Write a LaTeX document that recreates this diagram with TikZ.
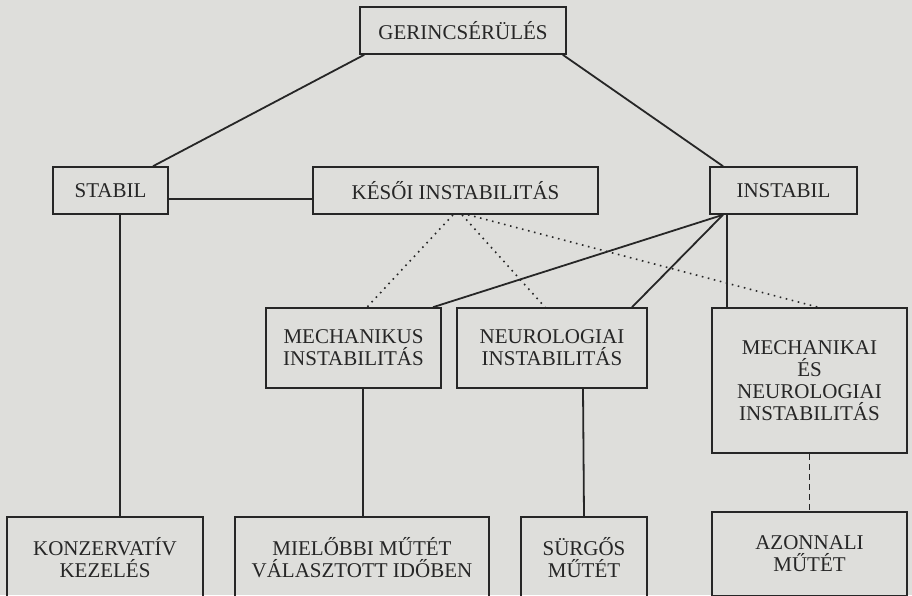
\documentclass[tikz,border=0pt]{standalone}
\usepackage{fontspec}
\setmainfont{Liberation Serif}
\usepackage{tikz}
\usetikzlibrary{positioning,calc}
\definecolor{papir}{RGB}{222,222,219}
\definecolor{tinta}{RGB}{38,38,38}
\tikzstyle{doboz} = [rectangle, draw=tinta, line width=1.6pt, text=tinta, align=center, inner sep=0pt, font=\fontsize{21}{22}\selectfont]
\tikzstyle{vonal} = [draw=tinta, line width=1.8pt]
\tikzstyle{pontozott} = [draw=tinta, line width=1.6pt, dash pattern=on 1.6pt off 4.6pt]
\tikzstyle{szaggatott} = [draw=tinta, line width=1.5pt, dash pattern=on 6pt off 4pt]

\begin{document}
\begin{tikzpicture}[x=1pt,y=-1pt]
	\fill[papir] (0,0) rectangle (912,595);
	\clip (0,0) rectangle (912,595);
	\node (ger) at (463,30.5) [doboz, minimum width=206pt, minimum height=47pt] {GERINCSÉRÜLÉS};
	\node (stab) at (110.5,190.5) [doboz, minimum width=115pt, minimum height=47pt] {STABIL};
	\node (kes) at (455.5,190.5) [doboz, minimum width=285pt, minimum height=47pt] {KÉSŐI INSTABILITÁS};
	\node (inst) at (783.5,190.5) [doboz, minimum width=147pt, minimum height=47pt] {INSTABIL};
	\node (mech) at (353.5,348) [doboz, minimum width=175pt, minimum height=80pt] {MECHANIKUS\\ INSTABILITÁS};
	\node (neur) at (552,348) [doboz, minimum width=190pt, minimum height=80pt] {NEUROLOGIAI\\ INSTABILITÁS};
	\node (mene) at (809.5,380.5) [doboz, minimum width=195pt, minimum height=145pt] {MECHANIKAI\\ ÉS\\ NEUROLOGIAI\\ INSTABILITÁS};
	\node (konz) at (105,558) [doboz, minimum width=196pt, minimum height=82pt] {KONZERVATÍV\\ KEZELÉS};
	\node (miel) at (362,558) [doboz, minimum width=254pt, minimum height=82pt] {MIELŐBBI MŰTÉT\\ VÁLASZTOTT IDŐBEN};
	\node (surg) at (584,558) [doboz, minimum width=126pt, minimum height=82pt] {SÜRGŐS\\ MŰTÉT};
	\node (azon) at (809.5,554) [doboz, minimum width=195pt, minimum height=84pt] {AZONNALI\\ MŰTÉT};

	\draw[vonal] ([xshift=5pt]ger.south west) -- ([xshift=42.5pt]stab.north);
	\draw[vonal] ([xshift=-4pt]ger.south east) -- ([xshift=-60.5pt]inst.north);
	\draw[vonal] ([yshift=-8.5pt]stab.east) -- ([yshift=-8.5pt]kes.west);
	\draw[vonal] ([xshift=9.5pt]stab.south) -- ([xshift=15pt]konz.north);
	\draw[vonal] ([xshift=-60.5pt]inst.south) -- ([xshift=79.5pt]mech.north);
	\draw[vonal] ([xshift=-60.5pt]inst.south) -- ([xshift=80pt]neur.north);
	\draw[vonal] ([xshift=-56.5pt]inst.south) -- ([xshift=-82.5pt]mene.north);
	\draw[pontozott] ([xshift=-2.5pt]kes.south) -- ([xshift=13.5pt]mech.north);
	\draw[pontozott] ([xshift=6.5pt]kes.south) -- ([xshift=-7pt]neur.north);
	\draw[pontozott] ([xshift=12.5pt]kes.south) -- ([xshift=8.5pt]mene.north);
	\draw[vonal] ([xshift=9.5pt]mech.south) -- ([xshift=1pt]miel.north);
	\draw[vonal] ([xshift=31pt]neur.south) -- (surg.north);
	\draw[szaggatott] (mene.south) -- (azon.north);
\end{tikzpicture}
\end{document}
